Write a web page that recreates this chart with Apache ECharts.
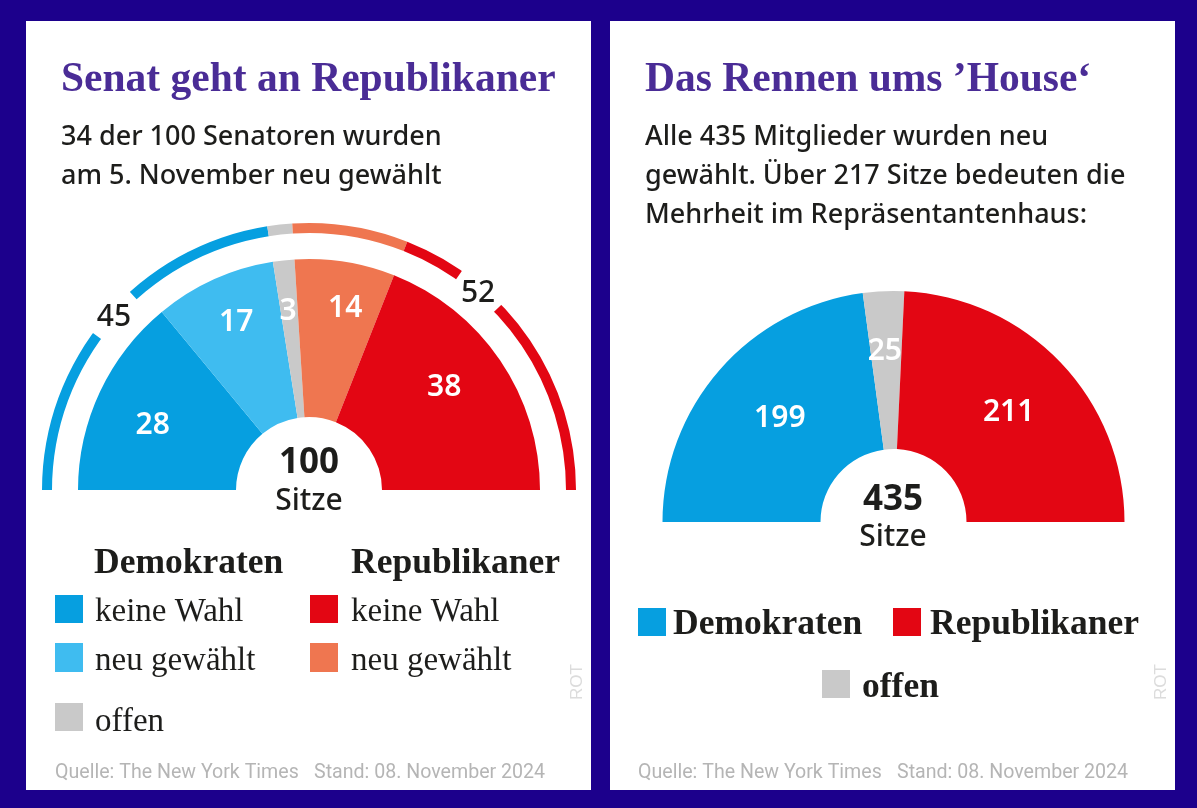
<!DOCTYPE html>
<html>
<head>
<meta charset="utf-8">
<title>Senat und House</title>
<script src="https://cdn.jsdelivr.net/npm/echarts@6/dist/echarts.min.js"></script>
<style>
	html,body{margin:0;padding:0;background:#1c008c;}
	#chart{width:1197px;height:808px;}
</style>
</head>
<body>
<div id="chart"></div>
<script type="text/javascript">
// Senat
var senateNames = ['Demokraten keine Wahl','Demokraten neu gewählt','offen','Republikaner neu gewählt','Republikaner keine Wahl'];
var senateValues = [28,17,3,14,38];
var senateColors = ['#069fe0','#3fbcf0','#c9c9c9','#ef7650','#e30613'];
// outer ring: the same seats, grouped
var ringValues = [45,3,14,38];
var ringColors = ['#069fe0','#c9c9c9','#ef7650','#e30613'];
// gaps in the ring that hold the totals 45 and 52
var ringGapValues = [20,6.6,42.8,6.2,24.4];
var ringGapLabels = ['','45','','52',''];

// House
var houseNames = ['Demokraten','offen','Republikaner'];
var houseValues = [199,25,211];
var houseColors = ['#069fe0','#c9c9c9','#e30613'];

// label nudges [dx,dy] from the middle of each slice
var senateShift = [[-16,1],[-9,-26],[-4,-24],[12,-28],[7,-15]];
var houseShift = [[3,-2],[-2,-16],[3,-3]];
var ringGapShift = [[0,0],[2,5],[0,0],[-3,5],[0,0]];

var serif = '"Liberation Serif"';
var sans = '"Noto Sans"';
var ink = '#1d1d1b';

function pieData(names, values, colors){
	var list = [];
	for(var i=0;i<values.length;i++){
		list.push({name:names[i],value:values[i],itemStyle:{color:colors[i]}});
	}
	return list;
}

function mainPie(name, center, data, shift){
	return {
		name:name,
		type:'pie',
		silent:true,
		animation:false,
		center:center,
		radius:[73,231],
		startAngle:180,
		endAngle:0,
		avoidLabelOverlap:false,
		labelLine:{show:false},
		label:{
			show:true,
			position:'inside',
			formatter:'{c}',
			color:'#fff',
			fontFamily:sans,
			fontWeight:600,
			fontSize:30
		},
		labelLayout:function(params){
			return {dx:shift[params.dataIndex][0],dy:shift[params.dataIndex][1]};
		},
		data:data
	};
}

// text helper
function txt(x,y,text,font,color,align){
	return {
		type:'text',
		x:x,
		y:y,
		z:10,
		silent:true,
		style:{text:text,font:font,fill:color,textAlign:align||'left',textVerticalAlign:'middle'}
	};
}
function box(x,y,w,h,color){
	return {type:'rect',silent:true,z:1,shape:{x:x,y:y,width:w,height:h},style:{fill:color}};
}

var titleFont = 'bold 41.5px '+serif;
var subFont = '500 27px '+sans;
var headFont = 'bold 35.5px '+serif;
var itemFont = '33px '+serif;
var sitzeFont = '500 30px '+sans;
var totalFont = 'bold 35px '+sans;
var sourceFont = '19.6px Roboto';
var titleColor = '#4a2c96';
var sourceColor = '#b5b5b5';
var rotColor = '#dcdcdc';

var graphics = [
	box(26,21,565,769,'#fff'),
	box(610,21,565,769,'#fff'),

	// left panel
	txt(61,80,'Senat geht an Republikaner',titleFont,titleColor),
	txt(61,137,'34 der 100 Senatoren wurden',subFont,ink),
	txt(61,176,'am 5. November neu gewählt',subFont,ink),
	txt(309,463,'100',totalFont,ink,'center'),
	txt(309,501,'Sitze',sitzeFont,ink,'center'),
	txt(94,564,'Demokraten',headFont,ink),
	txt(351,564,'Republikaner',headFont,ink),
	box(55,595,28,28,senateColors[0]),
	txt(95,612,'keine Wahl',itemFont,ink),
	box(55,643,28,29,senateColors[1]),
	txt(95,661,'neu gewählt',itemFont,ink),
	box(310,595,28,28,senateColors[4]),
	txt(351,612,'keine Wahl',itemFont,ink),
	box(310,643,28,29,senateColors[3]),
	txt(351,661,'neu gewählt',itemFont,ink),
	box(55,703,28,28,senateColors[2]),
	txt(95,722,'offen',itemFont,ink),
	txt(55,773,'Quelle: The New York Times',sourceFont,sourceColor),
	txt(314,773,'Stand: 08. November 2024',sourceFont,sourceColor),

	// right panel
	txt(645,80,'Das Rennen ums ’House‘',titleFont,titleColor),
	txt(645,137,'Alle 435 Mitglieder wurden neu',subFont,ink),
	txt(645,176,'gewählt. Über 217 Sitze bedeuten die',subFont,ink),
	txt(645,215,'Mehrheit im Repräsentantenhaus:',subFont,ink),
	txt(893,500,'435',totalFont,ink,'center'),
	txt(893,537,'Sitze',sitzeFont,ink,'center'),
	box(638,608,28,28,houseColors[0]),
	txt(673,625,'Demokraten',headFont,ink),
	box(893,608,28,28,houseColors[2]),
	txt(930,625,'Republikaner',headFont,ink),
	box(822,670,28,28,houseColors[1]),
	txt(862,688,'offen',headFont,ink),
	txt(638,773,'Quelle: The New York Times',sourceFont,sourceColor),
	txt(897,773,'Stand: 08. November 2024',sourceFont,sourceColor)
];

// vertical ROT marks
function rot(x){
	return {
		type:'text',x:x,y:682,z:10,silent:true,rotation:Math.PI/2,
		style:{text:'ROT',font:'17px "Liberation Sans"',fill:rotColor,textAlign:'center',textVerticalAlign:'middle'}
	};
}
graphics.push(rot(577));
graphics.push(rot(1161));

var ringGapData = [];
for(var i=0;i<ringGapValues.length;i++){
	var isGap = ringGapLabels[i]!=='';
	ringGapData.push({
		value:ringGapValues[i],
		name:ringGapLabels[i]||('ring'+i),
		itemStyle:{color:isGap?'#fff':'rgba(0,0,0,0)'},
		label:{show:isGap}
	});
}

var option = {
	backgroundColor:'#1c008c',
	animation:false,
	graphic:graphics,
	series:[
		mainPie('Senat',[309,490],pieData(senateNames,senateValues,senateColors),senateShift),
		{
			name:'Senat gesamt',
			type:'pie',
			silent:true,
			center:[309,490],
			radius:[257,267],
			startAngle:180,
			endAngle:0,
			label:{show:false},
			labelLine:{show:false},
			data:pieData(['Demokraten','offen','Republikaner neu','Republikaner alt'],ringValues,ringColors)
		},
		{
			name:'Senat Summen',
			type:'pie',
			silent:true,
			z:3,
			center:[309,490],
			radius:[254,270],
			startAngle:180,
			endAngle:0,
			avoidLabelOverlap:false,
			labelLine:{show:false},
			label:{
				position:'inside',
				formatter:'{b}',
				color:ink,
				fontFamily:sans,
				fontWeight:500,
				fontSize:30
			},
			labelLayout:function(params){
				return {dx:ringGapShift[params.dataIndex][0],dy:ringGapShift[params.dataIndex][1]};
			},
			data:ringGapData
		},
		mainPie('House',[893.5,522],pieData(houseNames,houseValues,houseColors),houseShift)
	]
};

var myChart = echarts.init(document.getElementById('chart'));
myChart.setOption(option);
</script>
</body>
</html>
